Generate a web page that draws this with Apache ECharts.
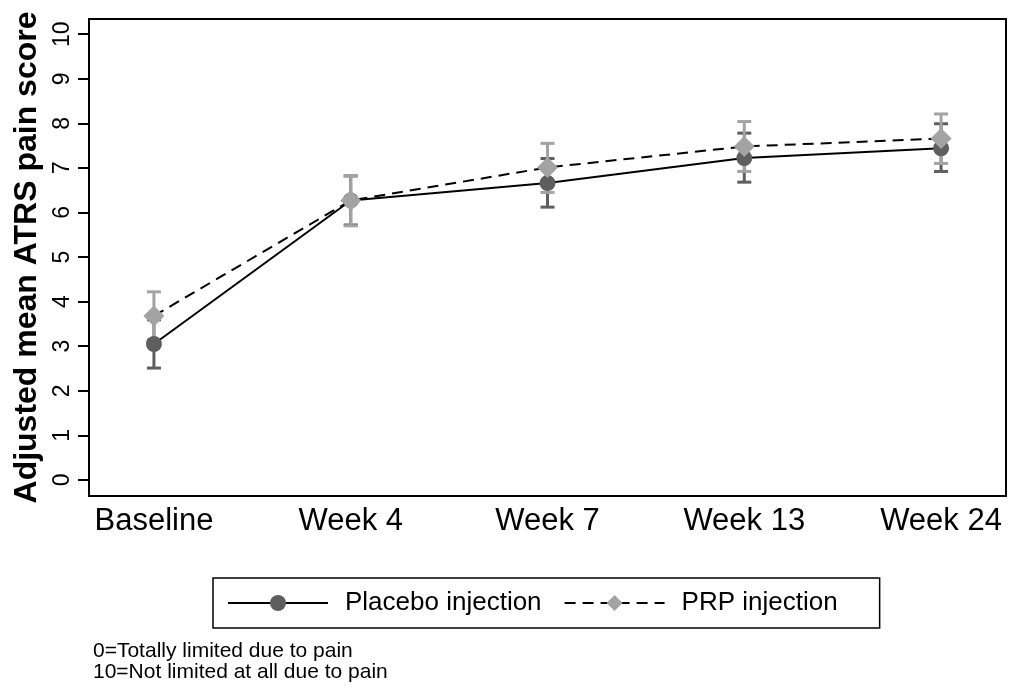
<!DOCTYPE html>
<html>
<head>
<meta charset="utf-8">
<script src="https://cdn.jsdelivr.net/npm/echarts@6/dist/echarts.min.js"></script>
<style>html,body{margin:0;padding:0;background:#fff;}#c{width:1009px;height:688px;}</style>
</head>
<body>
<div id="c"></div>
<script>
const categories = ['Baseline', 'Week 4', 'Week 7', 'Week 13', 'Week 24'];
const placeboMean = [3.05, 6.27, 6.66, 7.22, 7.44];
const placeboLow  = [2.51, 5.72, 6.12, 6.68, 6.92];
const placeboHigh = [3.59, 6.82, 7.21, 7.78, 7.99];
const prpMean = [3.68, 6.27, 7.01, 7.48, 7.66];
const prpLow  = [3.14, 5.70, 6.45, 6.92, 7.10];
const prpHigh = [4.22, 6.82, 7.55, 8.04, 8.21];
const yTicks = [0, 1, 2, 3, 4, 5, 6, 7, 8, 9, 10];
const xTicks = [0, 1, 2, 3, 4];
const notes = ['0=Totally limited due to pain', '10=Not limited at all due to pain'];

const FONT = "'Liberation Sans', Arial, sans-serif";
const DARK = '#5e5e5e';
const LIGHT = '#a3a3a3';

function errorBars(name, low, high, color, z) {
  return {
    type: 'custom', name: name, silent: true, z: z,
    renderItem: function (params, api) {
      const x = api.value(0);
      const p1 = api.coord([x, api.value(1)]);
      const p2 = api.coord([x, api.value(2)]);
      const hw = 7;
      const st = { stroke: color, lineWidth: 3 };
      return { type: 'group', children: [
        { type: 'line', shape: { x1: p1[0], y1: p1[1], x2: p2[0], y2: p2[1] }, style: st },
        { type: 'line', shape: { x1: p1[0] - hw, y1: p1[1], x2: p1[0] + hw, y2: p1[1] }, style: st },
        { type: 'line', shape: { x1: p2[0] - hw, y1: p2[1], x2: p2[0] + hw, y2: p2[1] }, style: st }
      ]};
    },
    data: low.map(function (l, i) { return [i, l, high[i]]; })
  };
}

const chart = echarts.init(document.getElementById('c'));
chart.setOption({
  animation: false,
  textStyle: { fontFamily: FONT },
  grid: { left: 89, right: 3, top: 19, bottom: 192, show: true, borderColor: '#000', borderWidth: 2, backgroundColor: '#fff' },
  xAxis: {
    type: 'value', min: -0.33, max: 4.33,
    splitLine: { show: false },
    axisLine: { show: true, onZero: false, lineStyle: { color: '#000', width: 2 } },
    axisTick: { show: false },
    axisLabel: {
      customValues: xTicks, fontSize: 31, color: '#000', margin: 10, fontFamily: FONT,
      formatter: function (v) { return categories[Math.round(v)]; }
    }
  },
  yAxis: {
    type: 'value', min: -0.36, max: 10.34,
    name: 'Adjusted mean ATRS pain score', nameLocation: 'middle', nameGap: 45,
    nameTextStyle: { fontSize: 32, fontWeight: 'bold', color: '#000', fontFamily: FONT },
    splitLine: { show: false },
    axisLine: { show: true, onZero: false, lineStyle: { color: '#000', width: 2 } },
    axisTick: { show: true, customValues: yTicks, length: 11, lineStyle: { color: '#000', width: 2 } },
    axisLabel: {
      customValues: yTicks, rotate: 90, fontSize: 23, color: '#000', margin: 15, fontFamily: FONT,
      formatter: function (v) { return String(Math.round(v)); }
    }
  },
  legend: {
    data: ['Placebo injection', 'PRP injection'],
    left: 213, top: 578, orient: 'horizontal',
    borderColor: '#000', borderWidth: 1.5, borderRadius: 0,
    padding: [12, 42, 12, 14],
    itemWidth: 100, itemHeight: 20, itemGap: 22,
    textStyle: { fontSize: 26, color: '#000', fontFamily: FONT, padding: [0, 0, 0, 12] }
  },
  graphic: [
    { type: 'text', left: 93, top: 641, style: { text: notes[0], font: "21px 'Liberation Sans', Arial, sans-serif", fill: '#000' } },
    { type: 'text', left: 93, top: 662, style: { text: notes[1], font: "21px 'Liberation Sans', Arial, sans-serif", fill: '#000' } }
  ],
  series: [
    errorBars('placeboCI', placeboLow, placeboHigh, DARK, 1),
    errorBars('prpCI', prpLow, prpHigh, LIGHT, 1),
    {
      type: 'line', name: 'Placebo injection', z: 3,
      data: placeboMean.map(function (v, i) { return [i, v]; }),
      symbol: 'circle', symbolSize: 16,
      itemStyle: { color: DARK },
      lineStyle: { color: '#000', width: 2, type: 'solid' }
    },
    {
      type: 'line', name: 'PRP injection', z: 4,
      data: prpMean.map(function (v, i) { return [i, v]; }),
      symbol: 'diamond', symbolSize: 21,
      itemStyle: { color: LIGHT },
      lineStyle: { color: '#000', width: 2, type: [11, 7] }
    }
  ]
});
</script>
</body>
</html>
